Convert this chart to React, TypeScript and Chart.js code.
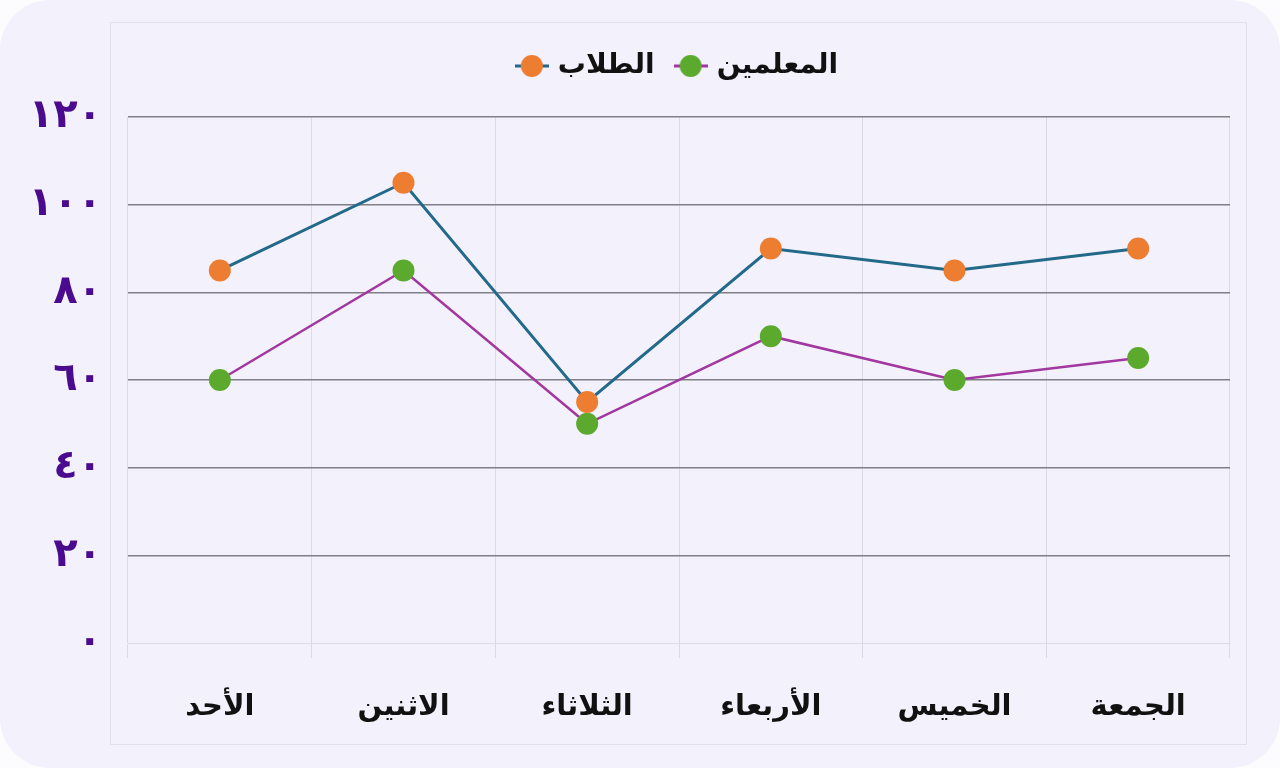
import React, { useEffect, useRef } from 'react';
import { Chart, registerables } from 'chart.js';

Chart.register(...registerables);

const categories = ['الأحد', 'الاثنين', 'الثلاثاء', 'الأربعاء', 'الخميس', 'الجمعة'];
const seriesNames = ['الطلاب', 'المعلمين'];
const studentValues = [85, 105, 55, 90, 85, 90];
const teacherValues = [60, 85, 50, 70, 60, 65];
const yTickValues = [0, 20, 40, 60, 80, 100, 120];
const yTickLabels = ['٠', '٢٠', '٤٠', '٦٠', '٨٠', '١٠٠', '١٢٠'];

const TEAL = '#22698a';
const PURPLE_LINE = '#a2379f';
const ORANGE = '#ED7D31';
const GREEN = '#5BAA2E';
const TICK_PURPLE = '#4a0b8f';
const FONT = '"DejaVu Sans", sans-serif';

function makeIcon(lineColor: string, dotColor: string) {
  const c = document.createElement('canvas');
  c.width = 34;
  c.height = 24;
  const ctx = c.getContext('2d')!;
  ctx.strokeStyle = lineColor;
  ctx.lineWidth = 3;
  ctx.beginPath();
  ctx.moveTo(0, 12);
  ctx.lineTo(34, 12);
  ctx.stroke();
  ctx.fillStyle = dotColor;
  ctx.beginPath();
  ctx.arc(17, 12, 11, 0, Math.PI * 2);
  ctx.fill();
  return c;
}

export default function App() {
  const ref = useRef<HTMLCanvasElement | null>(null);

  useEffect(() => {
    if (!ref.current) return;
    const icons = [makeIcon(TEAL, ORANGE), makeIcon(PURPLE_LINE, GREEN)];
    const legendSpacer = {
      id: 'legendSpacer',
      beforeInit(chart: any) {
        const orig = chart.legend.fit;
        chart.legend.fit = function () {
          orig.call(this);
          this.height += 27;
        };
      },
      afterLayout(chart: any) {
        chart.legend.left = chart.chartArea.left;
        chart.legend.right = chart.chartArea.right;
      },
    };
    const chart = new Chart(ref.current, {
      type: 'line',
      data: {
        labels: categories,
        datasets: [
          {
            label: seriesNames[0],
            data: studentValues,
            borderColor: TEAL,
            borderWidth: 3,
            pointRadius: 11,
            pointHoverRadius: 11,
            pointBackgroundColor: ORANGE,
            pointBorderColor: ORANGE,
            pointBorderWidth: 0,
            tension: 0,
          },
          {
            label: seriesNames[1],
            data: teacherValues,
            borderColor: PURPLE_LINE,
            borderWidth: 2.5,
            pointRadius: 11,
            pointHoverRadius: 11,
            pointBackgroundColor: GREEN,
            pointBorderColor: GREEN,
            pointBorderWidth: 0,
            tension: 0,
          },
        ],
      },
      options: {
        animation: false,
        responsive: true,
        maintainAspectRatio: false,
        layout: { padding: { left: 0, right: 50, top: 28, bottom: 0 } },
        plugins: {
          tooltip: { enabled: false },
          legend: {
            position: 'top',
            align: 'center',
            labels: {
              usePointStyle: true,
              pointStyleWidth: 24,
              padding: 24,
              color: '#111111',
              font: { family: FONT, size: 28, weight: 'bold' },
              generateLabels(chart: any) {
                const base = Chart.defaults.plugins.legend.labels.generateLabels(chart);
                return base.map((l: any, i: number) => ({ ...l, pointStyle: icons[i] }));
              },
            },
          },
        },
        scales: {
          x: {
            offset: true,
            afterFit(scale: any) {
              scale.height = 125;
            },
            grid: {
              offset: true,
              color: '#dcdae6',
              lineWidth: 1,
              tickLength: 15,
              drawTicks: true,
            },
            border: { color: '#dcdae6', width: 1 },
            ticks: {
              padding: 32,
              color: '#111111',
              font: { family: FONT, size: 29, weight: 'bold' },
              maxRotation: 0,
            },
          },
          y: {
            min: 0,
            max: 120,
            afterFit(scale: any) {
              scale.width = 128;
            },
            afterBuildTicks(scale: any) {
              scale.ticks = yTickValues.map((v) => ({ value: v }));
            },
            grid: {
              drawTicks: false,
              color: (ctx: any) => (ctx.tick && ctx.tick.value === 0 ? '#dcdae6' : '#7f7f87'),
              lineWidth: (ctx: any) => (ctx.tick && ctx.tick.value === 0 ? 1 : 1.5),
            },
            border: { display: false },
            ticks: {
              padding: 26,
              color: TICK_PURPLE,
              font: { family: FONT, size: 40, weight: 'bold' },
              callback: (value: any) => yTickLabels[yTickValues.indexOf(Number(value))],
            },
          },
        },
      },
      plugins: [legendSpacer],
    } as any);
    return () => chart.destroy();
  }, []);

  return (
    <div style={{ position: 'fixed', left: 0, top: 0, width: 1280, height: 768, background: '#fcfcff' }}>
      <div
        style={{
          position: 'absolute',
          left: 0,
          top: 0,
          width: 1280,
          height: 768,
          borderRadius: 50,
          background: '#f3f1fc',
        }}
      />
      <div
        style={{
          position: 'absolute',
          left: 110,
          top: 22,
          width: 1137,
          height: 723,
          border: '1.5px solid #e1dfea',
          boxSizing: 'border-box',
        }}
      />
      <div style={{ position: 'absolute', left: 0, top: 0, width: 1280, height: 768 }}>
        <canvas ref={ref} />
      </div>
    </div>
  );
}
